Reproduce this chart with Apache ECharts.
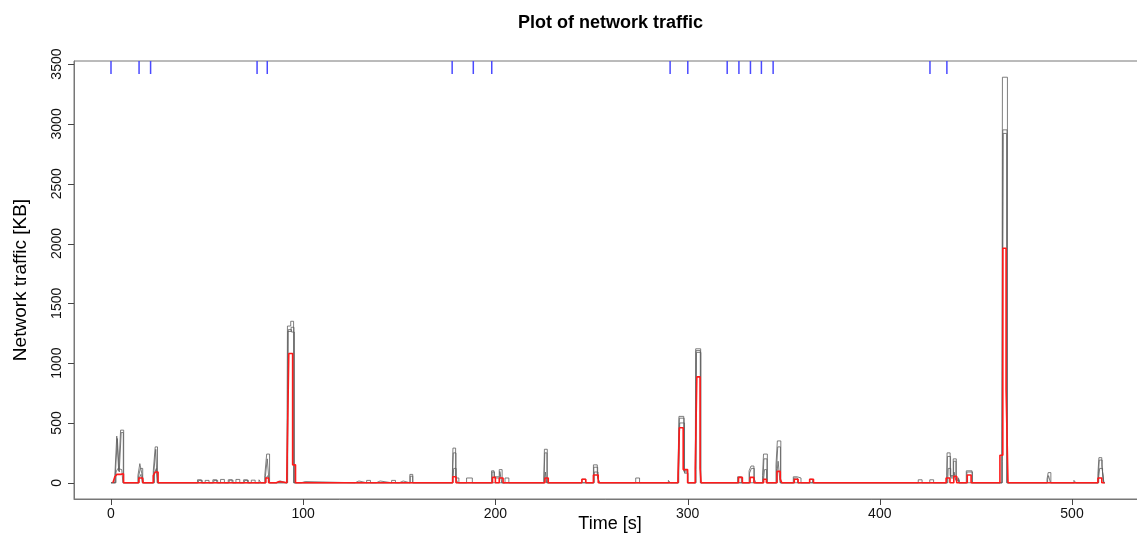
<!DOCTYPE html>
<html>
<head>
<meta charset="utf-8">
<script src="https://cdn.jsdelivr.net/npm/echarts@6/dist/echarts.min.js"></script>
<style>html,body{margin:0;padding:0;background:#fff}#c{width:1137px;height:535px}</style>
</head>
<body>
<div id="c"></div>
<script>
// ---- data (time [s], traffic [KB]) ----
const xTicks = [0, 100, 200, 300, 400, 500];
const yTicks = [0, 500, 1000, 1500, 2000, 2500, 3000, 3500];

// rug marks at top (event times, s)
const rugTimes = [0, 14.6, 20.6, 76, 81.3, 177.5, 188.5, 198.1, 290.9, 300.1, 320.6, 326.7, 332.7, 338.4, 344.5, 426.1, 434.9];

// black step series (individual runs)
const blackA = [[0,0],[2,60],[3,390],[4,100],[5,440],[6.6,0],
 [14,60],[15,160],[16,80],[17,0],[22,100],[23,300],[24.2,0],
 [45,25],[47,0],[49,20],[51,0],[53,25],[55,0],[57,28],[59,0],[61,25],[63,0],[65,28],[67,0],[69,25],[71,0],[73,22],[75,0],[77,25],[78,0],
 [80,60],[81,240],[82.5,0],[86,15],[88,0],
 [91.5,60],[91.8,1310],[93.5,1350],[95,0],[99,10],[101,0],
 [127,15],[129,0],[133,20],[135,0],[138,15],[140,0],[146,20],[148,0],[150,15],[152,0],[155.5,70],[157,0],[165,15],[166,0],
 [177.6,60],[177.9,290],[179.3,40],[181,0],[185,40],[188,0],
 [198,100],[199.3,50],[202,110],[203.5,0],[205,40],[207,0],
 [225.2,40],[225.5,280],[227,0],[245,30],[247,0],[251,150],[253,60],[254,0],
 [266,15],[267,0],[273,40],[275,0],[290,20],[291,0],
 [295,80],[295.5,555],[298,100],[300,0],[304,130],[304.2,1120],[306.8,0],
 [326,50],[328,0],[332,100],[333,140],[334.5,40],[335.5,0],[339,60],[339.5,240],[341.5,0],
 [346,150],[346.7,350],[348.5,0],[355,50],[357,40],[359,0],[363.5,30],[365,0],
 [420,25],[422,0],[426,25],[428,0],
 [434.8,60],[435,250],[436.6,60],[438.2,200],[439.8,40],[441,0],[445,100],[448,0],[458,15],[459,0],
 [463.5,240],[463.8,3390],[466.4,0],
 [481,10],[482,0],[487,30],[487.6,85],[489,0],[493,15],[494,0],[501,20],[502,0],
 [513.5,80],[514,210],[515.5,150],[516.5,0],[517,0]];

const blackB = [[0,0],[2.3,80],[3.3,370],[4.3,90],[5.3,420],[6.4,0],
 [14.3,50],[15.3,120],[16.5,0],[22.3,90],[23.3,280],[24,0],
 [45.5,20],[47.5,0],[53.5,20],[55.5,0],[61.5,22],[63.5,0],[69.5,20],[71.5,0],
 [80.3,50],[81.3,200],[82.3,0],
 [91.7,50],[92,1265],[93.7,1300],[95.2,0],
 [155.7,55],[157,0],[177.7,50],[178.1,250],[179.5,30],[180.5,0],
 [198.3,90],[199.5,40],[202.3,95],[203.3,0],
 [225.3,30],[225.7,250],[226.8,0],[251.2,130],[253.2,50],[254,0],
 [295.2,70],[295.7,540],[298.2,90],[300,0],[304.2,120],[304.4,1105],[306.6,0],
 [332.2,80],[333.2,120],[334.7,0],[339.3,50],[339.7,200],[341.3,0],[346.3,120],[346.9,300],[348.3,0],
 [355.3,40],[357.2,0],
 [435,50],[435.2,220],[436.8,50],[438.4,180],[439.6,30],[441.2,0],[445.3,90],[448.2,0],
 [463.6,200],[464,2950],[466.2,0],
 [487.3,25],[487.8,60],[488.8,0],[513.7,60],[514.2,190],[515.7,130],[516.3,0],[517,0]];

const blackC = [[0,0],[2.6,90],[3.6,120],[4.6,110],[5.6,100],[6.2,0],
 [14.6,40],[15.6,70],[16.3,0],[22.6,80],[23.6,120],[24.4,0],
 [80.6,40],[81.6,60],[82.4,0],
 [91.9,40],[92.2,1280],[93.9,1260],[95.4,0],
 [178,40],[178.3,120],[179.6,0],[225.6,30],[226,90],[226.6,0],[251.4,90],[253.4,40],[254.2,0],
 [295.4,60],[295.9,500],[298.4,80],[300.2,0],[304.4,110],[304.6,1090],[306.9,0],
 [339.6,40],[340,110],[341.1,0],[346.6,100],[347.1,180],[348.1,0],
 [435.4,40],[435.6,120],[436.9,40],[438.6,90],[439.5,20],[441.4,0],
 [463.7,180],[464.2,2920],[466,0],
 [513.9,50],[514.4,120],[515.9,90],[516.6,0],[517,0]];

// red step series (summary)
const redSeries = [[1,0],[2,50],[3,70],[5,75],[6.5,0],[14.5,40],[16.5,0],[22,60],[23,90],[24.5,0],
 [80.5,40],[82,0],[86,10],[87.5,0],[91.5,50],[92.5,1080],[94.5,150],[96,0],
 [177.8,50],[179.5,0],[198.5,45],[200,0],[202,40],[204,0],[225.8,40],[227.5,0],[245,30],[247,0],[251,65],[253.5,0],
 [295,30],[295.7,460],[297.7,110],[300,0],[304,120],[304.8,885],[306.5,120],[307,0],
 [326.5,45],[328.5,0],[332.5,45],[334.5,0],[339.5,30],[341,0],[346.5,95],[348.2,30],[349,0],[355.5,30],[357.5,0],[363.5,30],[365.5,0],
 [434.5,40],[436.5,0],[438.5,55],[440,0],[445.5,65],[447.5,0],
 [462.5,230],[464,1960],[465.7,780],[466.7,0],
 [513.5,40],[515.5,0],[517,0]];

const X_MIN = -19.25, X_MAX = 538.5, Y_MIN = -135.6, Y_MAX = 3525.6;

const chart = echarts.init(document.getElementById('c'), null, {renderer: 'canvas'});
const FONT = '"Liberation Sans", Arial, sans-serif';

function blackLine(data) {
  return {type: 'line', step: 'end', data: data, symbol: 'none', silent: true,
    lineStyle: {color: '#5e5e5e', width: 0.8}, z: 2};
}

chart.setOption({
  animation: false,
  title: {text: 'Plot of network traffic', left: 513, top: 9,
    textStyle: {fontFamily: FONT, fontSize: 18, fontWeight: 'bold', color: '#000'}},
  grid: {left: 74, top: 61, right: -9, bottom: 36, show: true, borderColor: '#777', borderWidth: 1,
    backgroundColor: 'transparent', outerBoundsMode: 'none', containLabel: false},
  xAxis: {type: 'value', min: X_MIN, max: X_MAX,
    name: 'Time [s]', nameLocation: 'middle', nameGap: 16, nameMoveOverlap: false,
    nameTextStyle: {fontFamily: FONT, fontSize: 18, color: '#000'},
    axisLine: {show: true, onZero: false, lineStyle: {color: '#777', width: 1}},
    axisTick: {show: false},
    axisLabel: {customValues: xTicks, fontFamily: FONT, fontSize: 14, color: '#111', margin: 8,
      formatter: v => String(v)},
    splitLine: {show: false}},
  yAxis: {type: 'value', min: Y_MIN, max: Y_MAX,
    name: 'Network traffic [KB]', nameLocation: 'middle', nameGap: 44, nameMoveOverlap: false,
    nameTextStyle: {fontFamily: FONT, fontSize: 19, color: '#000'},
    axisLine: {show: true, onZero: false, lineStyle: {color: '#777', width: 1}},
    axisTick: {show: false},
    axisLabel: {customValues: yTicks, rotate: 90, fontFamily: FONT, fontSize: 14, color: '#111', margin: 10,
      formatter: v => String(v)},
    splitLine: {show: false}},
  series: [
    blackLine(blackA), blackLine(blackB), blackLine(blackC),
    {type: 'line', step: 'end', data: redSeries, symbol: 'none', silent: true,
      lineStyle: {color: '#ff1a1a', width: 1.6}, z: 3},
    {type: 'custom', z: 4, silent: true, clip: false,
      data: rugTimes.map(t => [t]),
      renderItem: function (params, api) {
        const top = api.coord([api.value(0), Y_MAX]);
        return {type: 'line', shape: {x1: top[0], y1: top[1], x2: top[0], y2: top[1] + 13},
          style: {stroke: '#4a4aff', lineWidth: 1.5}};
      }}
  ]
});

// outward tick marks, placed through the chart's own axis scales once it has rendered
let ticksDone = false;
function addTicks() {
  if (ticksDone) return;
  const els = [];
  try {
    xTicks.forEach(v => {
      const p = chart.convertToPixel({seriesIndex: 0}, [v, Y_MIN]);
      if (!p) return;
      const x = Math.round(p[0]) + 0.5, y = Math.round(p[1]);
      els.push({type: 'line', silent: true, z: 100, shape: {x1: x, y1: y, x2: x, y2: y + 6},
        style: {stroke: '#444', lineWidth: 1}});
    });
    yTicks.forEach(v => {
      const p = chart.convertToPixel({seriesIndex: 0}, [X_MIN, v]);
      if (!p) return;
      const x = Math.round(p[0]), y = Math.round(p[1]) + 0.5;
      els.push({type: 'line', silent: true, z: 100, shape: {x1: x - 6, y1: y, x2: x, y2: y},
        style: {stroke: '#444', lineWidth: 1}});
    });
  } catch (e) { return; }
  if (els.length) {
    ticksDone = true;
    chart.setOption({graphic: els});
  }
}
chart.on('finished', addTicks);
addTicks();
</script>
</body>
</html>
